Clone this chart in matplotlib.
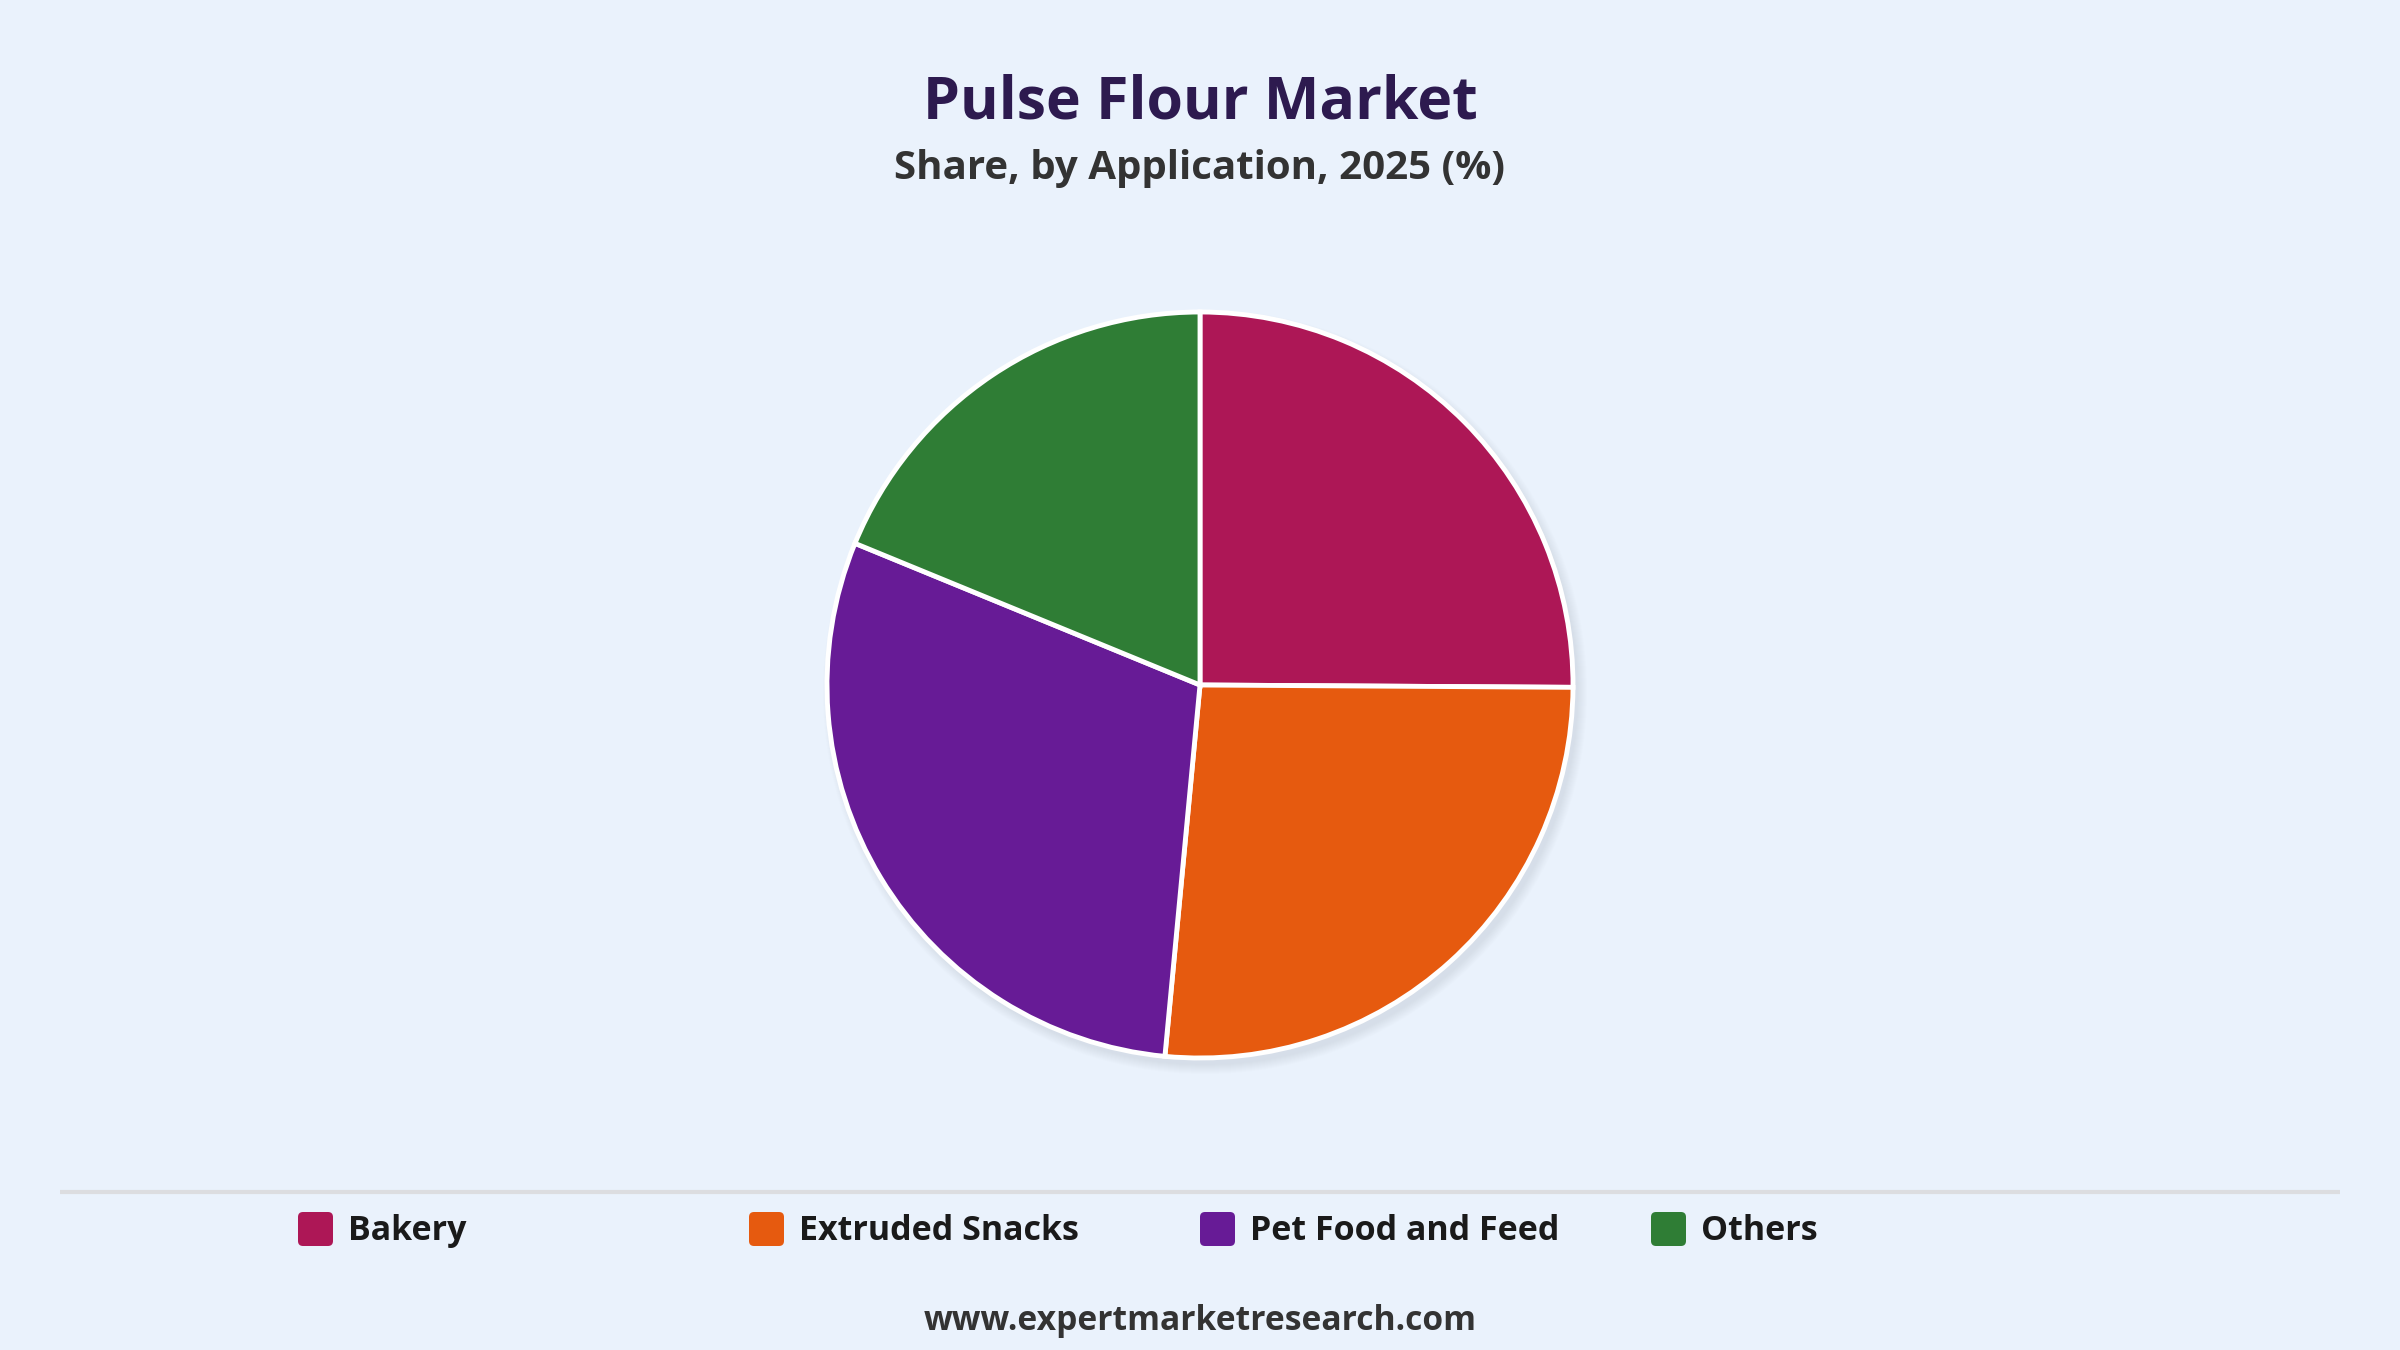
import numpy as np
import matplotlib.pyplot as plt
from matplotlib.patches import FancyBboxPatch, Circle

categories = ['Bakery', 'Extruded Snacks', 'Pet Food and Feed', 'Others']
shares = [25.1, 26.4, 29.7, 18.8]
colors = ['#ad1756', '#e65a0f', '#671b96', '#2f7d35']

bg = '#eaf2fc'
plt.rcParams['font.family'] = ['Open Sans', 'DejaVu Sans']

fig = plt.figure(figsize=(24, 13.5), dpi=100, facecolor=bg)
ax = fig.add_axes([0, 0, 1, 1])
ax.set_facecolor(bg)

cx, cy, r = 1200, 665, 373

# soft shadow, lower right
for i in range(10):
    ax.add_patch(Circle((cx + 5, cy - 7), r + 9 - i, color='#9aa7b8',
                        alpha=0.018, lw=0, zorder=1))

ax.pie(shares, colors=colors, startangle=90, counterclock=False,
       center=(cx, cy), radius=r, frame=True,
       wedgeprops=dict(edgecolor='white', linewidth=3.5, zorder=2))
ax.set_xlim(0, 2400)
ax.set_ylim(0, 1350)
ax.axis('off')

fig.text(0.5, 1 - 103 / 1350, 'Pulse Flour Market', ha='center', va='center',
         fontsize=42.5, fontweight='bold', color='#2d1a4f')
fig.text(0.5, 1 - 168 / 1350, 'Share, by Application, 2025 (%)', ha='center',
         va='center', fontsize=29, fontweight='bold', color='#333333')

# separator
ax.plot([60, 2340], [1350 - 1192, 1350 - 1192], color='#dcdde0', lw=3,
        solid_capstyle='butt')

# legend
ly = 1350 - 1229
for i, (name, c) in enumerate(zip(categories, colors)):
    x0 = 298 + i * 451
    ax.add_patch(FancyBboxPatch((x0 + 5, ly - 12), 25, 24,
                                boxstyle='round,pad=5', fc=c, ec='none'))
    ax.text(x0 + 50, ly - 2, name, ha='left', va='center', fontsize=24.5,
            fontweight='bold', color='#1a1a1a')

fig.text(0.5, 1 - 1321 / 1350, 'www.expertmarketresearch.com', ha='center',
         va='center', fontsize=24.2, fontweight='bold', color='#333333')

fig.savefig('out.png', dpi=100, facecolor=bg)
